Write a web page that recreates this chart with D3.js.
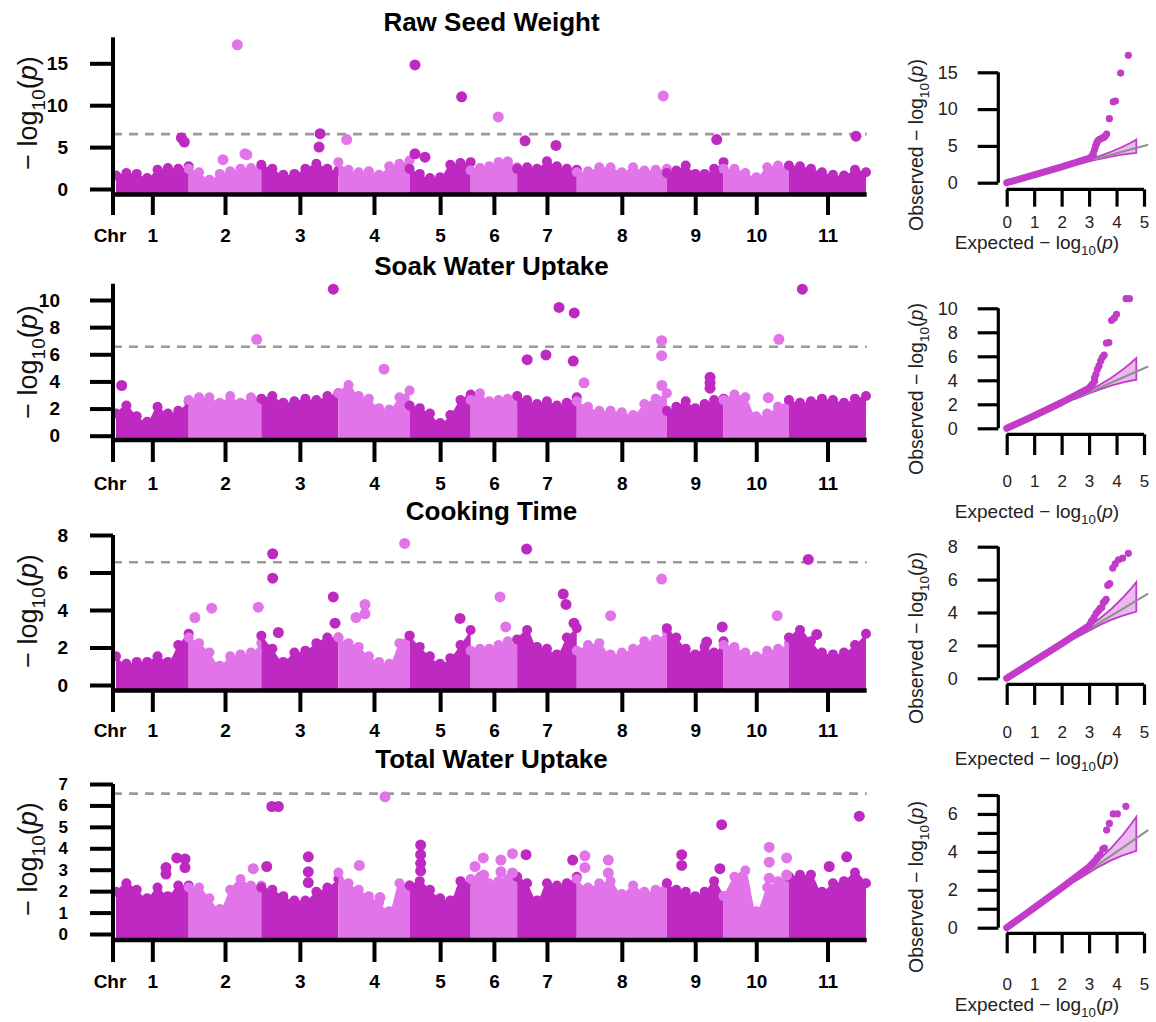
<!DOCTYPE html>
<html><head><meta charset="utf-8">
<script src="https://cdn.jsdelivr.net/npm/d3@7"></script>
<style>
body{margin:0;background:#fff}
svg{display:block}
text{font-family:"Liberation Sans",Arial,Helvetica,sans-serif}
</style>
</head><body>
<svg id="c" width="1156" height="1022"></svg>
<script>
// ---------------- DATA ----------------
const chromosomes = ["1","2","3","4","5","6","7","8","9","10","11"];
const chrLengthsMb = [50,50,53,49,42,32,41,62,39,45,53];
const traitTitles = ["Raw Seed Weight","Soak Water Uptake","Cooking Time","Total Water Uptake"];
const suggestiveThreshold = 6.55;
const manhattanYTicks = [[0,5,10,15],[0,2,4,6,8,10],[0,2,4,6,8],[0,1,2,3,4,5,6,7]];
const manhattanYMax = [18.1,11.2,8,7];

// upper envelope (-log10 p) of the dense SNP cloud, evenly spaced along each chromosome
const envelopeRawSeedWeight = [
 [2.2,2.5,2.4,1.9,2.9,3.1,3.0,3.3],
 [3.0,2.6,1.7,2.4,2.7,3.0,3.1,3.3],
 [3.5,3.0,2.3,2.4,3.0,3.6,3.0,2.8],
 [3.8,2.9,2.6,2.7,2.3,3.3,3.6,4.0],
 [3.0,2.4,1.9,2.0,3.5,3.7,3.8],
 [2.8,3.1,3.3,3.8,3.9,3.2],
 [3.0,3.2,3.0,3.9,3.3,3.0,2.9],
 [2.6,2.7,3.2,3.2,2.6,3.2,2.8,2.9,3.0],
 [2.5,2.8,3.4,2.4,2.4,3.0,3.8],
 [3.0,3.0,2.5,2.0,3.2,3.4,3.2],
 [3.4,3.3,3.0,2.6,2.3,2.2,2.9,2.6]
];
const envelopeSoakWaterUptake = [
 [2.0,2.6,1.8,1.4,2.5,2.0,2.2,2.9],
 [3.0,3.2,3.2,2.8,3.3,2.8,3.2,3.0],
 [3.1,3.3,2.8,2.9,3.1,3.0,3.3,3.5],
 [3.5,4.1,3.3,3.1,2.4,2.3,3.2,3.7],
 [2.6,2.4,2.0,1.3,1.9,3.0,3.4],
 [3.0,3.5,2.9,3.0,3.1,2.8],
 [3.3,3.0,2.7,2.9,2.6,2.8,3.2],
 [2.9,2.5,2.2,2.2,2.1,1.9,2.7,3.1,3.5],
 [2.2,2.5,2.9,2.4,2.7,3.0,3.1],
 [3.0,3.4,3.2,1.8,2.0,2.5,2.9],
 [3.0,2.8,2.9,3.1,3.0,2.8,3.1,3.3]
];
const envelopeCookingTime = [
 [1.8,1.4,1.5,1.5,1.8,1.5,2.4,3.0],
 [2.8,2.5,2.0,1.3,1.8,1.9,2.0,2.5],
 [2.9,2.2,1.5,2.0,2.1,2.5,2.8,2.8],
 [2.8,2.5,2.3,1.8,1.5,1.4,2.5,2.9],
 [2.9,2.3,1.8,1.4,1.7,2.4,3.2],
 [2.1,2.2,2.2,2.4,2.6,2.3],
 [2.7,3.2,2.3,2.2,1.9,2.8,3.3],
 [2.1,2.4,2.5,1.9,2.0,2.2,2.6,2.7,3.1],
 [3.3,2.8,2.2,1.9,2.3,2.0,2.6],
 [2.4,2.3,2.0,1.8,2.1,2.2,2.5],
 [2.8,3.2,2.6,2.0,1.9,2.0,2.4,3.0]
];
const envelopeTotalWaterUptake = [
 [2.2,2.6,2.3,1.9,2.4,2.0,2.5,2.5],
 [2.4,2.4,1.9,1.4,2.3,2.8,2.5,2.5],
 [2.4,2.3,2.0,1.8,1.8,2.2,2.4,2.8],
 [3.1,2.6,2.3,2.0,1.7,1.3,2.6,2.5],
 [2.5,2.7,2.3,1.9,1.8,2.7,2.7],
 [2.8,2.9,2.6,2.7,2.8,2.8],
 [2.9,2.6,1.8,2.6,2.5,2.6,2.9],
 [2.8,2.4,2.6,2.7,2.1,2.5,2.2,2.3,2.6],
 [2.6,2.3,2.2,2.0,2.2,2.7,2.0],
 [2.0,2.9,3.2,1.3,2.4,2.7,2.9],
 [2.9,3.0,3.0,2.2,2.6,2.7,3.1,2.6]
];

// individual SNPs standing above the cloud: [chromosome, position (Mb), -log10 p]
const hitsRawSeedWeight = [
 [1,45,6.1],[1,47,5.6],[2,23.6,3.5],[2,33.5,17.2],[2,38.7,4.2],[2,40,4.1],
 [3,39.7,5.0],[3,40.4,6.6],[4,5.7,5.9],[5,3.7,14.8],[5,3.7,4.2],[5,10.6,3.8],[5,35.8,11.0],
 [6,19,8.6],[7,5.4,5.75],[7,26.7,5.2],[8,59.5,11.1],[9,34.3,5.9],[11,46.1,6.3]
];
const hitsSoakWaterUptake = [
 [1,3.9,3.7],[2,46.8,7.1],[3,49.5,10.8],[4,31.4,4.9],[7,6.9,5.6],[7,19.8,5.95],
 [7,28.8,9.45],[7,39.3,9.05],[7,38.6,5.5],[8,5.0,3.9],[8,58.4,7.0],[8,58.4,5.9],[8,58.6,3.7],
 [9,29.7,4.3],[9,29.7,3.9],[9,29.7,3.5],
 [10,38.1,7.1],[10,30.8,2.8],[11,9.2,10.8]
];
const hitsCookingTime = [
 [2,4.3,3.6],[2,15.8,4.1],[2,47.9,4.15],[3,7.8,7.0],[3,7.8,5.7],[3,11.7,2.8],[3,49.5,4.7],[3,50.7,3.3],
 [4,12.1,3.6],[4,18.3,4.3],[4,18.3,3.8],[4,45.6,7.55],[5,34.7,3.55],[6,20.2,4.7],[6,24.1,3.1],
 [7,6.5,7.25],[7,31.7,4.85],[7,33.6,4.3],[7,39.1,3.3],[8,23.3,3.7],[8,58.4,5.65],
 [9,38.1,3.1],[9,27.4,2.3],[10,36.9,3.7],[11,13.3,6.7],[11,19.1,2.7]
];
const hitsTotalWaterUptake = [
 [1,34.4,3.1],[1,34.4,2.8],[1,41.8,3.55],[1,47.5,3.5],[1,47.5,3.1],[2,44.4,3.05],
 [3,3.7,3.15],[3,7.2,5.95],[3,11.7,5.95],[3,32.3,3.6],[3,32.3,2.9],[3,32.3,2.4],
 [4,14.4,3.2],[4,32.1,6.4],[4,28.6,1.7],
 [5,7.6,4.15],[5,7.6,3.7],[5,7.6,3.3],[5,7.6,2.95],
 [6,3.0,3.15],[6,8.7,3.55],[6,9.0,2.75],[6,20.8,3.45],[6,20.8,2.9],[6,28.8,3.75],[6,28.8,2.85],
 [7,6.1,3.7],[7,38.2,3.45],[8,5.6,3.65],[8,5.6,3.1],[8,21.7,3.45],[8,21.7,2.85],
 [9,10.2,3.7],[9,10.2,3.2],[9,37.7,5.1],[9,36.5,3.05],
 [10,31.4,4.05],[10,31.4,3.35],[10,31.4,2.6],[10,43.4,3.55],[10,43.4,2.75],
 [11,27.7,3.15],[11,39.7,3.6],[11,48.4,5.5]
];

// QQ plots
const qqXTicks = [0,1,2,3,4,5];
const qqYTicks = [[0,5,10,15],[0,2,4,6,8,10],[0,2,4,6,8],[0,1,2,3,4,5,6,7]];
const qqYTickLabels = [[0,5,10,15],[0,2,4,6,8,10],[0,2,4,6,8],[0,2,4,6]];
// dense body of the QQ cloud: [expected, observed]
const qqBodyRawSeedWeight = [[0,0],[1,1.05],[2,2.15],[3,3.3],[3.15,3.7]];
const qqBodySoakWaterUptake = [[0,0],[1,1.05],[2,2.15],[3,3.35],[3.2,3.9]];
const qqBodyCookingTime = [[0,0],[1,1.05],[2,2.1],[3,3.2],[3.1,3.5]];
const qqBodyTotalWaterUptake = [[0,0],[1,1.05],[2,2.1],[3,3.2],[3.3,3.65]];
// upper tail points: [expected, observed]
const qqTailRawSeedWeight = [[3.15,4.0],[3.2,4.5],[3.24,5.0],[3.28,5.4],[3.32,5.7],[3.38,5.9],[3.45,6.0],[3.52,6.15],[3.58,6.3],[3.64,6.6],[3.74,8.7],[3.88,11.0],[3.96,11.1],[4.15,14.9],[4.43,17.3]];
const qqTailSoakWaterUptake = [[3.2,4.2],[3.25,4.5],[3.3,4.9],[3.36,5.2],[3.42,5.6],[3.48,5.9],[3.55,6.1],[3.63,7.1],[3.72,7.15],[3.82,9.0],[3.92,9.2],[4.0,9.5],[4.35,10.8],[4.47,10.8]];
const qqTailCookingTime = [[3.1,3.5],[3.18,3.7],[3.26,3.95],[3.34,4.1],[3.4,4.25],[3.46,4.3],[3.52,4.6],[3.58,4.7],[3.62,4.8],[3.68,5.65],[3.75,5.75],[3.86,6.7],[3.95,6.95],[4.07,7.2],[4.22,7.3],[4.43,7.6]];
const qqTailTotalWaterUptake = [[3.3,3.7],[3.4,3.85],[3.5,4.15],[3.56,4.2],[3.64,5.15],[3.74,5.5],[3.88,6.0],[4.03,6.0],[4.34,6.4]];
// confidence band
const ciExpected = [2.5,3.0,3.4,3.8,4.2,4.5,4.72];
const ciUpper    = [2.6,3.15,3.65,4.2,4.85,5.4,5.85];
const ciLower    = [2.45,2.9,3.25,3.55,3.8,3.95,4.05];
const nullLine = [[0,0],[5.15,5.15]];

// ---------------- DRAW ----------------
const envelopes = [envelopeRawSeedWeight, envelopeSoakWaterUptake, envelopeCookingTime, envelopeTotalWaterUptake];
const hits = [hitsRawSeedWeight, hitsSoakWaterUptake, hitsCookingTime, hitsTotalWaterUptake];
const qqBodies = [qqBodyRawSeedWeight, qqBodySoakWaterUptake, qqBodyCookingTime, qqBodyTotalWaterUptake];
const qqTails = [qqTailRawSeedWeight, qqTailSoakWaterUptake, qqTailCookingTime, qqTailTotalWaterUptake];

const DARK = "#BE29C1", LIGHT = "#E274E9", QQCOL = "#C23BC9";
const chrColor = i => (i % 2 === 0 ? DARK : LIGHT);
const cum = d3.cumsum(chrLengthsMb);
const chrStart = chrLengthsMb.map((l, i) => cum[i] - l);
const totalMb = cum[cum.length - 1];
const mids = chrLengthsMb.map((l, i) => chrStart[i] + l / 2);

const svg = d3.select("#c");

const manLayout = [
 {titleY:31,  zero:189,   topPx:63.3, axisY:194.5, tickEnd:215, labelY:242, pad:22, tickFont:19, ylabY:113},
 {titleY:275, zero:435.7, topPx:300,  axisY:440,   tickEnd:462, labelY:490, pad:30, tickFont:19, ylabY:362},
 {titleY:520, zero:685,   topPx:535,  axisY:690.5, tickEnd:712, labelY:737, pad:22, tickFont:19, ylabY:611},
 {titleY:768, zero:934,   topPx:784,  axisY:940,   tickEnd:962, labelY:988, pad:22, tickFont:17, ylabY:859}
];
const AXL = 113, AXR = 866.7, R = 5, RH = 5.5;

function logLabel(t, prefix, size) {
  t.append("tspan").text(prefix + "log");
  t.append("tspan").attr("font-size", size * 0.7).attr("dy", size * 0.3).text("10");
  t.append("tspan").attr("dy", -size * 0.3).text("(");
  t.append("tspan").attr("font-style", "italic").text("p");
  t.append("tspan").text(")");
}

manLayout.forEach((L, p) => {
  const ticks = manhattanYTicks[p];
  const topTick = ticks[ticks.length - 1];
  const y = d3.scaleLinear().domain([0, topTick]).range([L.zero, L.topPx]);
  const x = d3.scaleLinear().domain([0, totalMb]).range([116, 866]);
  const g = svg.append("g");

  g.append("text").attr("x", 491.5).attr("y", L.titleY).attr("text-anchor", "middle")
    .attr("font-weight", "bold").attr("font-size", 26).attr("fill", "#000").text(traitTitles[p]);

  // dense SNP cloud
  envelopes[p].forEach((env, i) => {
    const n = env.length;
    const pts = env.map((v, k) => ({pos: chrStart[i] + chrLengthsMb[i] * k / (n - 1), v}));
    g.append("path").datum(pts).attr("fill", chrColor(i))
      .attr("d", d3.area().x(d => x(d.pos)).y0(y(0) + R).y1(d => y(d.v) + R).curve(d3.curveMonotoneX));
    g.selectAll(null).data(pts).join("circle")
      .attr("cx", d => x(d.pos)).attr("cy", d => y(d.v) + R).attr("r", R).attr("fill", chrColor(i));
  });

  // threshold
  g.append("line").attr("x1", AXL).attr("x2", AXR).attr("y1", y(suggestiveThreshold)).attr("y2", y(suggestiveThreshold))
    .attr("stroke", "#999").attr("stroke-width", 2.6).attr("stroke-dasharray", "9,7");

  // hits
  g.selectAll(null).data(hits[p]).join("circle")
    .attr("cx", d => x(chrStart[d[0] - 1] + d[1])).attr("cy", d => y(d[2])).attr("r", RH)
    .attr("fill", d => chrColor(d[0] - 1));

  // y axis
  g.append("line").attr("x1", AXL).attr("x2", AXL).attr("y1", y(manhattanYMax[p])).attr("y2", L.axisY + 2)
    .attr("stroke", "#000").attr("stroke-width", 4);
  const ya = g.append("g").attr("transform", `translate(${AXL},0)`)
    .call(d3.axisLeft(y).tickValues(ticks).tickSize(23).tickPadding(L.pad).tickFormat(d3.format("d")));
  ya.select(".domain").remove();
  ya.selectAll(".tick line").attr("stroke", "#000").attr("stroke-width", 4);
  ya.selectAll("text").attr("font-size", L.tickFont).attr("font-weight", "bold").attr("fill", "#000");

  // x axis
  const tickLen = L.tickEnd - L.axisY;
  const xpad = L.labelY - L.axisY - tickLen - 0.71 * 19;
  g.append("line").attr("x1", AXL - 2).attr("x2", AXR).attr("y1", L.axisY).attr("y2", L.axisY)
    .attr("stroke", "#000").attr("stroke-width", 4.5);
  const xa = g.append("g").attr("transform", `translate(0,${L.axisY})`)
    .call(d3.axisBottom(x).tickValues(mids).tickFormat((d, i) => chromosomes[i]).tickSize(tickLen).tickPadding(xpad));
  xa.select(".domain").remove();
  xa.selectAll(".tick line").attr("stroke", "#000").attr("stroke-width", 4);
  xa.selectAll("text").attr("font-size", 19).attr("font-weight", "bold").attr("fill", "#000");
  g.append("line").attr("x1", AXL).attr("x2", AXL).attr("y1", L.axisY).attr("y2", L.tickEnd)
    .attr("stroke", "#000").attr("stroke-width", 4);
  g.append("text").attr("x", 110).attr("y", L.labelY).attr("text-anchor", "middle")
    .attr("font-size", 19).attr("font-weight", "bold").attr("fill", "#000").text("Chr");

  // y label
  const yl = g.append("text").attr("transform", `translate(37,${L.ylabY}) rotate(-90)`)
    .attr("text-anchor", "middle").attr("font-size", 27).attr("fill", "#111");
  logLabel(yl, "\u2212 ", 27);
});

// QQ plots
const qqLayout = [
 {zero:182.7, topPx:72.3,  axisY:189.3, tickEnd:206.7, tickBase:228.5, xlabBase:249, ylabY:145},
 {zero:428.3, topPx:308.3, axisY:434.3, tickEnd:455,   tickBase:487.5, xlabBase:518, ylabY:389},
 {zero:678.3, topPx:546.7, axisY:684.3, tickEnd:705,   tickBase:738,   xlabBase:765, ylabY:638},
 {zero:927.7, topPx:795,   axisY:933.3, tickEnd:953.3, tickBase:990.5, xlabBase:1011, ylabY:887}
];
const QYX = 998.3;
qqLayout.forEach((L, p) => {
  const yt = qqYTicks[p];
  const y = d3.scaleLinear().domain([0, yt[yt.length - 1]]).range([L.zero, L.topPx]);
  const x = d3.scaleLinear().domain([0, 5]).range([1006.7, 1144]);
  const g = svg.append("g");
  const ciPts = ciExpected.map((e, k) => ({e, u: ciUpper[k], l: ciLower[k]}));
  g.append("path").datum(ciPts).attr("fill", "#EBB9EF").attr("stroke", QQCOL).attr("stroke-width", 1.8)
    .attr("d", d3.area().x(d => x(d.e)).y0(d => y(d.l)).y1(d => y(d.u)));
  g.append("path").datum(nullLine).attr("fill", "none").attr("stroke", "#8f8f8f").attr("stroke-width", 2)
    .attr("d", d3.line().x(d => x(d[0])).y(d => y(d[1])));
  g.append("path").datum(qqBodies[p]).attr("fill", "none").attr("stroke", QQCOL).attr("stroke-width", 7)
    .attr("stroke-linecap", "round").attr("stroke-linejoin", "round")
    .attr("d", d3.line().x(d => x(d[0])).y(d => y(d[1])));
  g.selectAll(null).data(qqTails[p]).join("circle")
    .attr("cx", d => x(d[0])).attr("cy", d => y(d[1])).attr("r", 3.6).attr("fill", QQCOL);

  // axes
  g.append("line").attr("x1", QYX).attr("x2", QYX).attr("y1", y(yt[yt.length - 1])).attr("y2", y(0))
    .attr("stroke", "#000").attr("stroke-width", 3.2);
  const ya = g.append("g").attr("transform", `translate(${QYX},0)`)
    .call(d3.axisLeft(y).tickValues(yt).tickSize(20.6).tickPadding(20)
      .tickFormat(d => qqYTickLabels[p].includes(d) ? String(d) : ""));
  ya.select(".domain").remove();
  ya.selectAll(".tick line").attr("stroke", "#000").attr("stroke-width", 3.2);
  ya.selectAll("text").attr("font-size", 18).attr("fill", "#222");

  const tl = L.tickEnd - L.axisY;
  g.append("line").attr("x1", x(0)).attr("x2", x(5)).attr("y1", L.axisY).attr("y2", L.axisY)
    .attr("stroke", "#000").attr("stroke-width", 3.2);
  const xa = g.append("g").attr("transform", `translate(0,${L.axisY})`)
    .call(d3.axisBottom(x).tickValues(qqXTicks).tickSize(tl).tickPadding(L.tickBase - L.axisY - tl - 0.71 * 17)
      .tickFormat(d3.format("d")));
  xa.select(".domain").remove();
  xa.selectAll(".tick line").attr("stroke", "#000").attr("stroke-width", 3.2);
  xa.selectAll("text").attr("font-size", 17).attr("fill", "#222");

  const xl = g.append("text").attr("x", 1037).attr("y", L.xlabBase).attr("text-anchor", "middle")
    .attr("font-size", 19).attr("fill", "#222");
  logLabel(xl, "Expected \u2212 ", 19);
  const yl = g.append("text").attr("transform", `translate(923,${L.ylabY}) rotate(-90)`)
    .attr("text-anchor", "middle").attr("font-size", 19.5).attr("fill", "#222");
  logLabel(yl, "Observed \u2212 ", 19.5);
});
</script>
</body></html>
